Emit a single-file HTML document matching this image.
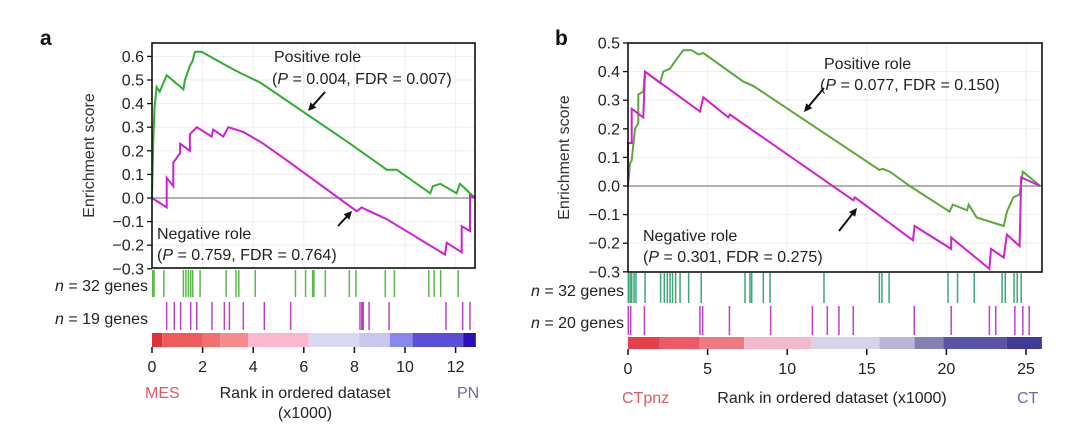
<!DOCTYPE html>
<html><head><meta charset="utf-8"><style>
html,body{margin:0;padding:0;background:#fff;}
svg{display:block;font-family:"Liberation Sans",Arial,sans-serif;}
</style></head><body>
<svg id="fig" width="1080" height="432" viewBox="0 0 1080 432" xmlns="http://www.w3.org/2000/svg">
<g id="root"></g>
</svg>
<script>
// ---------- Panel a data ----------
const aYTicks = [0.6,0.5,0.4,0.3,0.2,0.1,0.0,-0.1,-0.2,-0.3];
const aXTicks = [0,2,4,6,8,10,12];
const aPosRank = [0,0.05,0.1,0.18,0.3,0.58,1.24,1.3,1.5,1.6,1.7,1.96,2.95,3.48,4.27,7.83,9.28,9.67,11.0,11.1,11.4,12.04,12.17,12.77];
const aPosES   = [0,0.25,0.38,0.47,0.45,0.52,0.46,0.50,0.56,0.58,0.62,0.62,0.56,0.53,0.49,0.23,0.12,0.12,0.02,0.05,0.06,0.02,0.06,0.0];
const aNegRank = [0,0.58,0.58,0.84,0.84,1.11,1.11,1.5,1.5,1.77,2.36,2.42,2.82,3.02,3.61,4.4,5.45,8.09,8.29,8.48,9.28,11.58,11.65,12.24,12.24,12.57,12.57,12.77];
const aNegES   = [0,-0.04,0.085,0.05,0.15,0.19,0.23,0.20,0.27,0.30,0.26,0.29,0.26,0.30,0.28,0.23,0.15,-0.056,-0.04,-0.05,-0.09,-0.24,-0.19,-0.23,-0.12,-0.14,0.01,0.0];
const aHitsPos = [0.03,0.08,0.47,1.24,1.34,1.44,1.53,1.61,1.9,2.93,3.32,3.43,4.08,5.67,6.07,6.35,6.4,6.85,7.8,8.06,9.22,9.58,10.94,11.15,11.41,12.1];
const aHitsNeg = [0.58,0.88,1.13,1.53,1.77,2.37,2.86,3.06,3.61,4.44,5.48,8.22,8.29,8.35,8.58,9.37,11.62,12.28,12.57];
const aBarStops = [0,0.4,2,2.7,3.8,6.2,8.2,9.4,10.3,12.3,12.8];
const aBarColors = ["#e0303a","#f05a5a","#f47070","#f78a8a","#f9b7d0","#d8d8f2","#c8c8ee","#8888ee","#5a4fd8","#2a10b0"];
// ---------- Panel b data ----------
const bYTicks = [0.5,0.4,0.3,0.2,0.1,0.0,-0.1,-0.2,-0.3];
const bXTicks = [0,5,10,15,20,25];
const bPosRank = [0,0.13,0.23,0.44,0.65,0.65,0.96,1.07,2.01,2.22,2.64,3.0,3.47,4.0,4.42,4.73,7.24,7.87,15.8,16.0,16.46,17.7,20.2,20.4,21.3,21.4,21.9,23.6,23.8,24.2,24.6,24.8,25.9];
const bPosES   = [0,0.08,0.09,0.2,0.22,0.32,0.33,0.4,0.36,0.40,0.41,0.44,0.475,0.475,0.46,0.465,0.365,0.35,0.056,0.06,0.05,0.0,-0.09,-0.065,-0.085,-0.065,-0.11,-0.14,-0.09,-0.04,-0.03,0.05,0.0];
const bNegRank = [0,0,0.23,0.23,0.96,1.07,4.52,4.73,6.3,6.4,14.15,14.25,17.9,18.0,20.3,20.3,22.7,22.8,23.6,23.8,24.6,24.7,25.9];
const bNegES   = [0,0.15,0.15,0.27,0.24,0.40,0.26,0.31,0.24,0.25,-0.05,-0.04,-0.19,-0.14,-0.22,-0.18,-0.29,-0.22,-0.25,-0.17,-0.21,0.03,0.0];
const bHitsPos = [0.02,0.13,0.23,0.38,0.5,1.07,2.05,2.28,2.47,2.64,2.8,2.99,3.27,3.81,4.6,7.35,7.66,7.77,8.5,8.92,12.31,15.79,15.95,16.4,20.1,20.7,21.75,23.5,23.7,24.25,24.45,24.7];
const bHitsNeg = [0.02,0.17,1.03,4.52,4.69,6.37,8.96,11.58,12.52,13.25,14.15,17.98,20.3,22.7,23.1,24.3,24.8,25.2];
const bBarStops = [0,2,4.5,7.3,11.5,15.8,18,19.8,23.8,26];
const bBarColors = ["#e8404a","#ee5a64","#f07880","#f4b8cc","#d6d2e8","#bab6d6","#8480b0","#5a54a4","#403a98"];

const NS="http://www.w3.org/2000/svg";
const root=document.getElementById('root');
const FS=16;
function mk(tag,attrs,parent,text){const e=document.createElementNS(NS,tag);for(const k in attrs)e.setAttribute(k,attrs[k]);if(text!==undefined)e.textContent=text;(parent||root).appendChild(e);return e;}

function panel(cfg){
  const g=mk('g',{});
  
  
  const X=r=>cfg.x0+(r-cfg.rmin)*(cfg.x1-cfg.x0)/(cfg.rmax-cfg.rmin);
  const Y=v=>cfg.yZero-v*cfg.yPer;
  cfg.xTicks.forEach(t=>{mk('line',{x1:X(t),x2:X(t),y1:cfg.top,y2:cfg.bottom,stroke:"#eee","stroke-width":1},g);});
  cfg.yTicks.forEach(t=>{mk('line',{x1:cfg.x0,x2:cfg.boxR,y1:Y(t),y2:Y(t),stroke:"#eee","stroke-width":1},g);});
  const z=mk('line',{x1:cfg.x0,x2:cfg.boxR,y1:Y(0),y2:Y(0),stroke:"#999","stroke-width":1.5},g);
  
  
  const mkPath=(R,E,col,nm)=>{const d=R.map((r,i)=>(i?'L':'M')+X(r).toFixed(1)+' '+Y(E[i]).toFixed(1)).join(' ');
    const p=mk('path',{d,fill:'none',stroke:col,'stroke-width':2,'stroke-linejoin':'miter'},g);
    
    };
  mkPath(cfg.posR,cfg.posE,cfg.green,'positive-role-curve');
  mkPath(cfg.negR,cfg.negE,'#d21ed2','negative-role-curve');
  const b=mk('rect',{x:cfg.x0,y:cfg.top,width:cfg.boxR-cfg.x0,height:cfg.bottom-cfg.top,fill:'none',stroke:'#111','stroke-width':1.6},g);
  
  
  cfg.yTicks.forEach(t=>{mk('line',{x1:cfg.x0-5,x2:cfg.x0,y1:Y(t),y2:Y(t),stroke:'#111','stroke-width':1.3},g);
    const tx=mk('text',{x:cfg.x0-8,y:Y(t)+5.5,'text-anchor':'end','font-size':FS,fill:'#222'},g,(t<0?'\u2212':'')+Math.abs(t).toFixed(1));
    
    });
  const yt=mk('text',{transform:`translate(${cfg.ytx},${(cfg.top+cfg.bottom)/2}) rotate(-90)`,'text-anchor':'middle','font-size':FS,fill:'#333'},g,'Enrichment score');
  
  
  cfg.hitsPos.forEach(r=>{const l=mk('line',{x1:X(r),x2:X(r),y1:cfg.hp[0],y2:cfg.hp[1],stroke:cfg.hitG,'stroke-width':1.5},g);
    
    });
  cfg.hitsNeg.forEach(r=>{const l=mk('line',{x1:X(r),x2:X(r),y1:cfg.hn[0],y2:cfg.hn[1],stroke:'#c040c8','stroke-width':1.5},g);
    
    });
  cfg.stops.slice(0,-1).forEach((s,i)=>{const r=mk('rect',{x:X(s),y:cfg.cb[0],width:X(cfg.stops[i+1])-X(s),height:cfg.cb[1]-cfg.cb[0],fill:cfg.colors[i]},g);
    
    });
  cfg.xTicks.forEach(t=>{mk('line',{x1:X(t),x2:X(t),y1:cfg.cb[1],y2:cfg.cb[1]+6,stroke:'#111','stroke-width':1.5},g);
    const tx=mk('text',{x:X(t),y:cfg.cb[1]+25,'text-anchor':'middle','font-size':FS,fill:'#222'},g,String(t));
    
    });
  return {g,X,Y};
}

panel({name:'panel-a',x0:152,x1:455.6,rmin:0,rmax:12,boxR:475,top:43,bottom:268,yZero:198,yPer:236,
  yTicks:aYTicks,xTicks:aXTicks,posR:aPosRank,posE:aPosES,negR:aNegRank,negE:aNegES,green:'#2fae2f',hitG:'#5cb84a',
  hitsPos:aHitsPos,hitsNeg:aHitsNeg,hp:[270,297],hn:[302,330],stops:aBarStops,colors:aBarColors,cb:[333,347],ytx:94});
panel({name:'panel-b',x0:628,x1:1026,rmin:0,rmax:25,boxR:1042,top:43,bottom:272,yZero:186,yPer:286,
  yTicks:bYTicks,xTicks:bXTicks,posR:bPosRank,posE:bPosES,negR:bNegRank,negE:bNegES,green:'#5aaa3a',hitG:'#3aa878',
  hitsPos:bHitsPos,hitsNeg:bHitsNeg,hp:[273,303],hn:[306,335],stops:bBarStops,colors:bBarColors,cb:[337,349],ytx:569});

function txt(x,y,s,opts,name){const t=mk('text',Object.assign({x,y,'font-size':FS,fill:'#222'},opts||{}));t.innerHTML=s;
  
  return t;}
function arrow(x1,y1,x2,y2){const ang=Math.atan2(y2-y1,x2-x1),h=9;
  mk('line',{x1,y1,x2:x2-Math.cos(ang)*5,y2:y2-Math.sin(ang)*5,stroke:'#111','stroke-width':2});
  const p=mk('polygon',{points:`${x2},${y2} ${x2-h*Math.cos(ang-0.45)},${y2-h*Math.sin(ang-0.45)} ${x2-h*Math.cos(ang+0.45)},${y2-h*Math.sin(ang+0.45)}`,fill:'#111'});
  
  }

txt(40,45,'a',{'font-size':21,'font-weight':'bold',fill:'#111'},'panel-a-label');
txt(555,45,'b',{'font-size':21,'font-weight':'bold',fill:'#111'},'panel-b-label');
txt(274,62,'Positive role',{},'positive-role-label');
txt(272,84,'(<tspan font-style="italic">P</tspan> = 0.004, FDR = 0.007)',{},'positive-role-stats');
arrow(325,92,308,111);
txt(157,239,'Negative role',{},'negative-role-label');
txt(157,260,'(<tspan font-style="italic">P</tspan> = 0.759, FDR = 0.764)',{},'negative-role-stats');
arrow(338,226,352,211);
txt(824,69,'Positive role',{},'positive-role-label');
txt(820,90,'(<tspan font-style="italic">P</tspan> = 0.077, FDR = 0.150)',{},'positive-role-stats');
arrow(824,88,804,112);
txt(643,241,'Negative role',{},'negative-role-label');
txt(643,262,'(<tspan font-style="italic">P</tspan> = 0.301, FDR = 0.275)',{},'negative-role-stats');
arrow(839,231,857,208);
txt(148,291,'<tspan font-style="italic">n</tspan> = 32 genes',{'text-anchor':'end'},'positive-gene-count');
txt(148,324,'<tspan font-style="italic">n</tspan> = 19 genes',{'text-anchor':'end'},'negative-gene-count');
txt(624,296,'<tspan font-style="italic">n</tspan> = 32 genes',{'text-anchor':'end'},'positive-gene-count');
txt(624,328,'<tspan font-style="italic">n</tspan> = 20 genes',{'text-anchor':'end'},'negative-gene-count');
txt(145,398,'MES',{fill:'#e05868'},'mes-label');
txt(305,398,'Rank in ordered dataset',{'text-anchor':'middle'},'x-axis-title');
txt(305,418,'(x1000)',{'text-anchor':'middle'},'x-axis-unit');
txt(457,398,'PN',{fill:'#6a6aa8'},'pn-label');
txt(622,403,'CTpnz',{fill:'#e05868'},'ctpnz-label');
txt(832,403,'Rank in ordered dataset (x1000)',{'text-anchor':'middle'},'x-axis-title');
txt(1017,403,'CT',{fill:'#6a6aa8'},'ct-label');
</script>
</body></html>
